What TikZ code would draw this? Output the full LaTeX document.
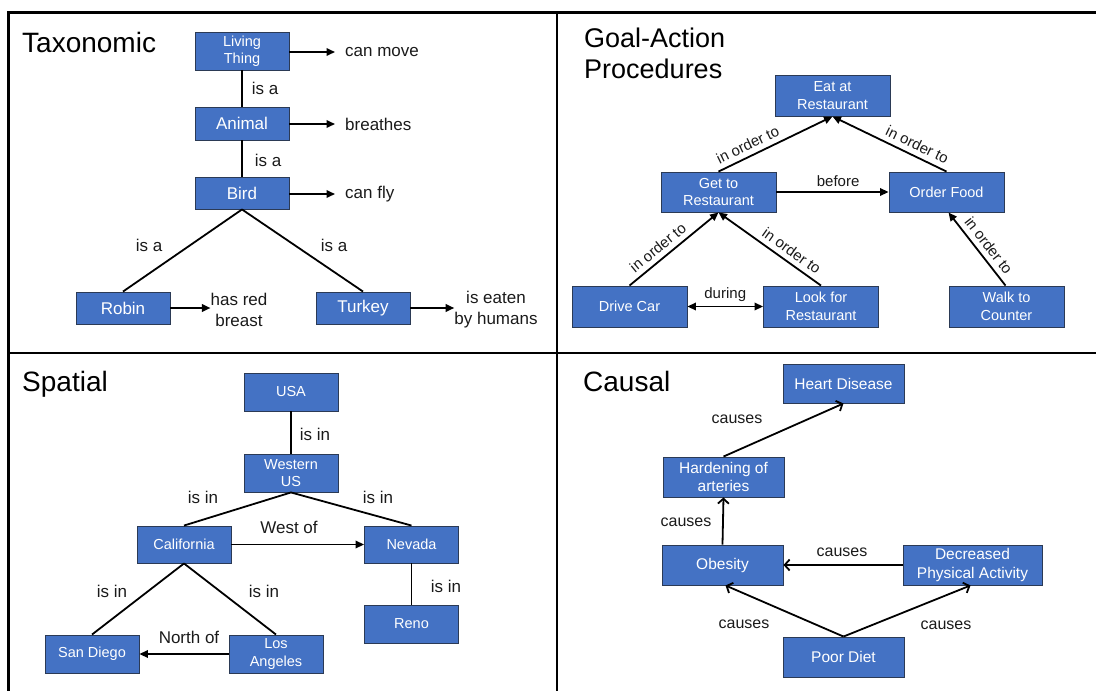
\documentclass[tikz,border=0pt]{standalone}
\usepackage{fontspec}
\setmainfont{Liberation Sans}
\usetikzlibrary{arrows.meta}
\definecolor{boxblue}{HTML}{4472C4}
\definecolor{boxedge}{HTML}{2B3A55}
\definecolor{ink}{HTML}{1A1A1A}
\begin{document}
\begin{tikzpicture}[x=1pt,y=-1pt,
  box/.style={draw=boxedge, line width=0.9pt, fill=boxblue, text=white, align=center,
    inner sep=0pt, minimum width=94pt, minimum height=38pt, font=\fontsize{14.5}{17.5}\selectfont},
  bigbox/.style={box, font=\fontsize{17}{20}\selectfont},
  gbox/.style={box, minimum width=115pt, minimum height=41pt},
  cbox/.style={box, minimum width=121pt, minimum height=40pt, font=\fontsize{15.5}{18.5}\selectfont},
  lbl/.style={text=ink, inner sep=1pt, align=center, font=\fontsize{17}{21}\selectfont},
  glbl/.style={text=ink, inner sep=1pt, font=\fontsize{15}{18}\selectfont},
  clbl/.style={text=ink, inner sep=1pt, font=\fontsize{16}{19}\selectfont},
  paneltitle/.style={text=black, inner sep=0pt, font=\fontsize{28}{31}\selectfont},
  conn/.style={draw=black, line width=1.8pt},
  arr/.style={conn, -{Triangle[length=8.5pt,width=7.5pt]}},
  darr/.style={conn, {Triangle[length=8.5pt,width=7.5pt]}-{Triangle[length=8.5pt,width=7.5pt]}},
  oarr/.style={conn, -{Straight Barb[length=5pt,width=11pt]}},
  frame/.style={line width=2.2pt, draw=black}]
\useasboundingbox (0,0) rectangle (1096,691);
% frame
\draw[frame] (8.5,691) -- (8.5,12.5) -- (1096,12.5);
\draw[frame] (557,12.5) -- (557,691);
\draw[frame] (8.5,353) -- (1096,353);

% ---------------- Taxonomic ----------------
\node[paneltitle, anchor=base west] (t1) at (22,52) {Taxonomic};
\node[box] (lt) at (242,51) {Living\\Thing};
\node[bigbox, minimum height=33pt] (an) at (242,123.5) {Animal};
\node[bigbox, minimum height=32pt] (bd) at (242,193) {Bird};
\node[bigbox, minimum height=32pt] (rb) at (123,308) {Robin};
\node[bigbox, minimum height=32pt] (tk) at (363,308) {Turkey};
\node[lbl, anchor=west, inner xsep=10pt] (cm) at (335,52) {can move};
\node[lbl, anchor=west, inner xsep=10pt] (br) at (335,124) {breathes};
\node[lbl, anchor=west, inner xsep=10pt] (cf) at (335,194) {can fly};
\node[lbl, inner sep=0pt] (hr) at (239,310) {has red\\breast};
\node[lbl, inner sep=0pt] (ie) at (496,310) {is eaten\\by humans};
\draw[arr] (lt.east |- cm.west) -- (cm.west);
\draw[arr] (an.east |- br.west) -- (br.west);
\draw[arr] (bd.east |- cf.west) -- (cf.west);
\draw[arr] (rb.east) -- (rb.east -| hr.west);
\draw[arr] (tk.east) -- (tk.east -| ie.west);
\draw[conn] (lt.south) -- (an.north);
\draw[conn] (an.south) -- (bd.north);
\draw[conn] (bd.south) -- (rb.north);
\draw[conn] (bd.south) -- (tk.north);
\node[lbl] (l1) at (265,88) {is a};
\node[lbl] (l2) at (268,160) {is a};
\node[lbl] (l3) at (149,245) {is a};
\node[lbl] (l4) at (334,245) {is a};

% ---------------- Goal-Action ----------------
\node[paneltitle, anchor=north west, align=left, font=\fontsize{27}{31}\selectfont] (t2) at (584,28) {Goal-Action\\Procedures};
\node[gbox] (eat) at (832.5,95.5) {Eat at\\Restaurant};
\node[gbox, minimum height=40pt] (get) at (718.5,192) {Get to\\Restaurant};
\node[gbox, minimum height=40pt] (ord) at (946.5,192) {Order Food};
\node[gbox] (drv) at (629.5,306.5) {Drive Car};
\node[gbox] (look) at (821,306.5) {Look for\\Restaurant};
\node[gbox] (walk) at (1006.5,306.5) {Walk to\\Counter};
\draw[arr] (get.north) -- node[glbl, sloped, above=4pt, pos=0.3] {in order to} (eat.south);
\draw[arr] (ord.north) -- node[glbl, sloped, above=4pt, pos=0.3] {in order to} (eat.south);
\draw[arr] (get.east) -- node[glbl, above=3pt, pos=0.55] {before} (ord.west);
\draw[arr] (drv.north) -- node[glbl, sloped, above=4pt, pos=0.4] {in order to} (get.south);
\draw[arr] (look.north) -- node[glbl, sloped, above=4pt, pos=0.35] {in order to} (get.south);
\draw[arr] ([xshift=-1pt]walk.north) -- node[glbl, sloped, above=4pt, pos=0.45] {in order to} ([xshift=2pt]ord.south);
\draw[darr] (drv.east) -- node[glbl, above=3pt] {during} (look.west);

% ---------------- Spatial ----------------
\node[paneltitle, anchor=base west] (t3) at (22,391) {Spatial};
\node[box] (usa) at (291,392) {USA};
\node[box] (wus) at (291,473) {Western\\US};
\node[box, minimum height=37pt] (cal) at (184,544.5) {California};
\node[box, minimum height=37pt] (nev) at (411.5,544.5) {Nevada};
\node[box] (reno) at (411.5,624) {Reno};
\node[box] (sd) at (92,654) {San Diego};
\node[box] (la) at (276,654) {Los\\Angeles};
\draw[conn] (usa.south) -- (wus.north);
\draw[conn] (wus.south) -- (cal.north);
\draw[conn] (wus.south) -- (nev.north);
\draw[arr] (cal.east) -- (nev.west);
\draw[conn] (cal.south) -- (sd.north);
\draw[conn] (cal.south) -- (la.north);
\draw[conn] (nev.south) -- (reno.north);
\draw[arr] (la.west) -- (sd.east);
\node[lbl] (s1) at (315,434) {is in};
\node[lbl] (s2) at (203,497) {is in};
\node[lbl] (s3) at (378,497) {is in};
\node[lbl] (s4) at (289,527) {West of};
\node[lbl] (s5) at (112,591) {is in};
\node[lbl] (s6) at (264,591) {is in};
\node[lbl] (s7) at (446,586) {is in};
\node[lbl] (s8) at (189,637) {North of};

% ---------------- Causal ----------------
\node[paneltitle, anchor=base west] (t4) at (583,391) {Causal};
\node[cbox, minimum height=39pt] (heart) at (843.5,383.5) {Heart Disease};
\node[cbox] (hard) at (723.5,477) {Hardening of\\arteries};
\node[cbox] (ob) at (722.5,565) {Obesity};
\node[cbox, minimum width=139pt] (dec) at (972.5,565) {Decreased\\Physical Activity};
\node[cbox] (poor) at (843.5,657) {Poor Diet};
\draw[oarr] (hard.north) -- (heart.south);
\draw[oarr] (ob.north) -- (hard.south);
\draw[oarr] (dec.west) -- (ob.east);
\draw[oarr] (poor.north) -- ([xshift=3pt]ob.south);
\draw[oarr] (poor.north) -- ([xshift=-2pt]dec.south);
\node[clbl] (c1) at (737,419) {causes};
\node[clbl] (c2) at (686,522) {causes};
\node[clbl] (c3) at (842,552) {causes};
\node[clbl] (c4) at (744,624) {causes};
\node[clbl] (c5) at (946,625) {causes};
\end{tikzpicture}
\end{document}
